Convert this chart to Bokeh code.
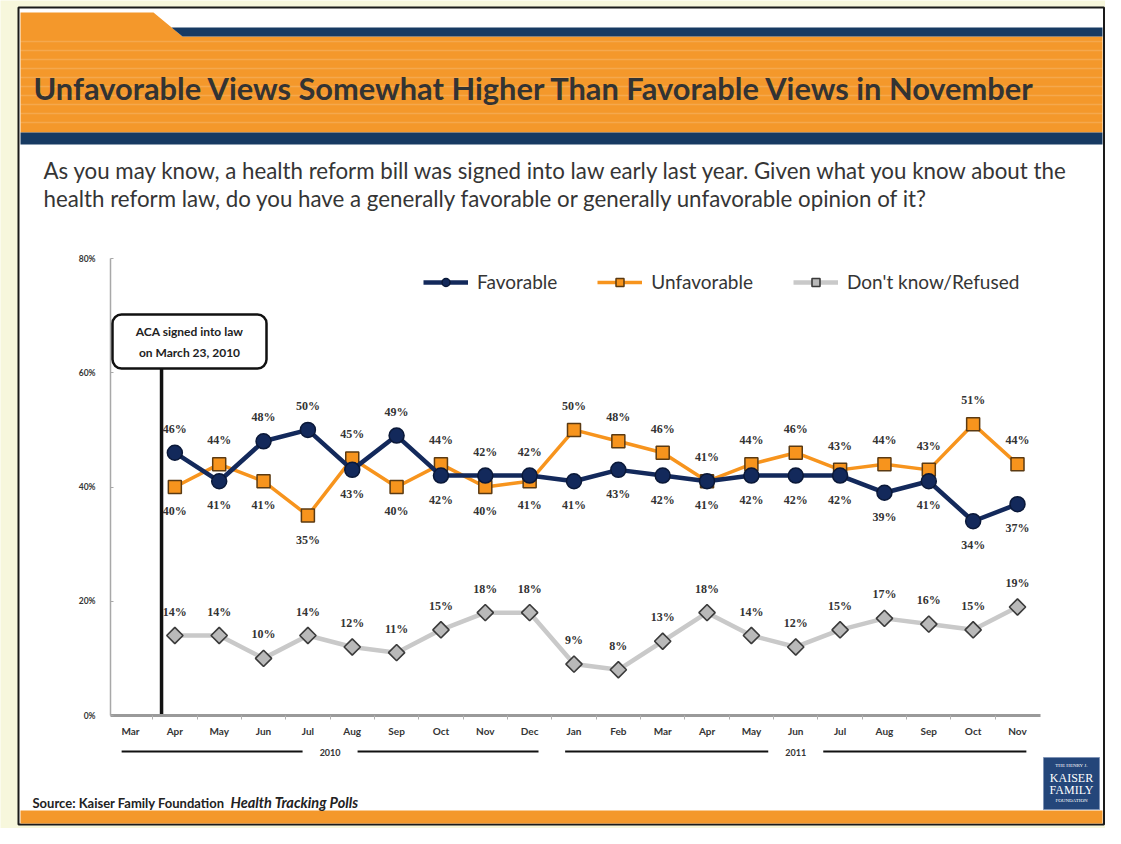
import numpy as np
from bokeh.plotting import figure
from bokeh.models import (Range1d, LinearAxis, FixedTicker, PrintfTickFormatter,
                          Legend, LegendItem, BoxAnnotation, ColumnDataSource)
from bokeh.core.properties import value
from bokeh.embed import file_html
from bokeh.resources import INLINE

# ---------------- data ----------------
months = ["Mar", "Apr", "May", "Jun", "Jul", "Aug", "Sep", "Oct", "Nov", "Dec",
          "Jan", "Feb", "Mar", "Apr", "May", "Jun", "Jul", "Aug", "Sep", "Oct", "Nov"]
years = ["2010", "2011"]
year_first = [0, 10]
year_last = [9, 20]
first_survey = 1  # April 2010
favorable = [46, 41, 48, 50, 43, 49, 42, 42, 42, 41, 43, 42, 41, 42, 42, 42, 39, 41, 34, 37]
unfavorable = [40, 44, 41, 35, 45, 40, 44, 40, 41, 50, 48, 46, 41, 44, 46, 43, 44, 43, 51, 44]
dont_know = [14, 14, 10, 14, 12, 11, 15, 18, 18, 9, 8, 13, 18, 14, 12, 15, 17, 16, 15, 19]
y_ticks = [0, 20, 40, 60, 80]
aca_x = 0.7  # March 23, 2010, between the Mar and Apr slots
aca_text = ["ACA signed into law", "on March 23, 2010"]

title = "Unfavorable Views Somewhat Higher Than Favorable Views in November"
subtitle = ["As you may know, a health reform bill was signed into law early last year. Given what you know about the",
            "health reform law, do you have a generally favorable or generally unfavorable opinion of it?"]
source_a = "Source: Kaiser Family Foundation"
source_b = "Health Tracking Polls"

# ---------------- styles ----------------
ORANGE = "#f4982b"
NAVY = "#173a62"
FAV = "#13295b"
UNF = "#f7941d"
DK_LINE = "#c9c9c9"
DK_FILL = "#b9b9b9"
TXT = "#353535"
BG = "#f7f7dc"
FONT = "Lato"

W, H = 1105, 828
X0, DX = 130.0, 44.35      # x of first slot, slot spacing (pixels)
Y0, DY = 715.0, 5.7125     # y of 0%, pixels per percent

p = figure(width=W, height=H,
           x_range=Range1d(-X0 / DX, (W - X0) / DX),
           y_range=Range1d((Y0 - H) / DY, Y0 / DY),
           x_axis_type=None, y_axis_type=None,
           toolbar_location=None, output_backend="svg", min_border=0,
           background_fill_color=BG, border_fill_color=BG, outline_line_color=None)
p.grid.visible = False
p.extra_x_ranges = {"px": Range1d(0, W)}
p.extra_y_ranges = {"py": Range1d(H, 0)}
PX = dict(x_range_name="px", y_range_name="py")

# ---------------- slide decoration ----------------
p.quad(left=[18], right=[1103.5], top=[7], bottom=[824], fill_color="white",
       line_color="#1a1a1a", line_width=2, **PX)
p.patch(x=[20, 153, 182, 1102, 1102, 20], y=[12, 12, 36, 36, 132, 132],
        fill_color=ORANGE, line_color=None, **PX)
p.patch(x=[171, 1102, 1102, 182], y=[27, 27, 36, 36], fill_color=NAVY, line_color=None, **PX)
stripe_y = list(range(41, 130, 9))
p.segment(x0=[20] * len(stripe_y), x1=[1102] * len(stripe_y), y0=stripe_y, y1=stripe_y,
          line_color="white", line_alpha=0.16, line_width=1.5, **PX)
p.quad(left=[20], right=[1102], top=[132], bottom=[144], fill_color=NAVY, line_color=None, **PX)
p.quad(left=[20], right=[1102], top=[810], bottom=[823], fill_color=ORANGE, line_color=None, **PX)

p.text(x=[33], y=[88], text=[title], text_font=value(FONT), text_font_style="bold",
       text_font_size="30.8px", text_color="#333333", text_baseline="middle", **PX)
p.text(x=[43, 43], y=[170, 198], text=subtitle, text_font=value(FONT),
       text_font_size="22.3px", text_color=TXT, text_baseline="middle", **PX)

# ---------------- axes ----------------
yaxis = LinearAxis(fixed_location=-0.45, ticker=FixedTicker(ticks=y_ticks),
                   formatter=PrintfTickFormatter(format="%d%%"), bounds=(0, 80),
                   axis_line_color="#a8a8a8", axis_line_width=1.5,
                   major_tick_in=3, major_tick_out=0, major_tick_line_color="#a8a8a8",
                   minor_tick_line_color=None, major_label_standoff=15,
                   major_label_text_font=FONT, major_label_text_font_style="bold",
                   major_label_text_font_size="8.5px", major_label_text_color=TXT)
p.add_layout(yaxis, "left")

xaxis = LinearAxis(fixed_location=0, ticker=FixedTicker(ticks=list(range(len(months)))),
                   major_label_overrides={i: m for i, m in enumerate(months)},
                   bounds=(-0.45, len(months) - 0.48),
                   axis_line_color="#9a9a9a", axis_line_width=3,
                   major_tick_line_color=None, minor_tick_line_color=None,
                   major_label_standoff=3, major_label_text_font=FONT,
                   major_label_text_font_style="bold", major_label_text_font_size="10px",
                   major_label_text_color=TXT)
p.add_layout(xaxis, "below")
xticks = LinearAxis(fixed_location=0, ticker=FixedTicker(ticks=[i + 0.5 for i in range(len(months) - 1)]),
                    axis_line_color=None, major_tick_in=0, major_tick_out=4,
                    major_tick_line_color="#b0b0b0", minor_tick_line_color=None,
                    major_label_text_alpha=0, major_label_text_font_size="1px")
p.add_layout(xticks, "below")

# year group labels
for yr, a, b in zip(years, year_first, year_last):
    c = (a + b) / 2
    p.segment(x0=[a - 0.2, c + 0.62], x1=[c - 0.62, b + 0.2], y0=[751, 751], y1=[751, 751],
              y_range_name="py", line_color="#111", line_width=2)
    p.text(x=[c], y=[752], text=[yr], y_range_name="py", text_font=value(FONT),
           text_font_style="bold", text_font_size="9px", text_color=TXT,
           text_align="center", text_baseline="middle")

# ---------------- ACA annotation ----------------
p.segment(x0=[aca_x], x1=[aca_x], y0=[366], y1=[Y0], y_range_name="py",
          line_color="#111", line_width=3.5)
p.add_layout(BoxAnnotation(left=112, right=266, top=314, bottom=368, fill_color="white",
                           fill_alpha=1, line_color="#111", line_alpha=1, line_width=2.5,
                           border_radius=9, **PX))
p.text(x=[189, 189], y=[331, 352], text=aca_text, text_font=value(FONT), text_font_style="bold",
       text_font_size="12px", text_color="#222", text_align="center", text_baseline="middle",
       level="overlay", **PX)

# ---------------- series ----------------
idx = np.arange(first_survey, first_survey + len(favorable))
fav = np.array(favorable)
unf = np.array(unfavorable)
dk = np.array(dont_know)
fav_up = fav > unf

dk_line = p.line(idx, dk, line_color=DK_LINE, line_width=4.5)
dk_pts = p.scatter(idx, dk, marker="square", angle=np.pi / 4, size=11.5, fill_color=DK_FILL,
                   line_color="#3a3a3a", line_width=1.6)
unf_line = p.line(idx, unf, line_color=UNF, line_width=3.5)
unf_pts = p.scatter(idx, unf, marker="square", size=13, fill_color=UNF,
                    line_color="#5b3a12", line_width=1.5)
fav_line = p.line(idx, fav, line_color=FAV, line_width=4.5)
fav_pts = p.scatter(idx, fav, marker="circle", size=15, fill_color=FAV,
                    line_color="#0a1838", line_width=1.5)

OFF = 24
lab_src = ColumnDataSource(dict(
    x=np.concatenate([idx, idx, idx]),
    y=np.concatenate([fav, unf, dk]),
    text=[f"{v}%" for v in np.concatenate([fav, unf, dk])],
    dy=np.concatenate([np.where(fav_up, -OFF, OFF), np.where(fav_up, OFF, -OFF),
                       np.full(len(dk), -OFF)]),
))
p.text(x="x", y="y", text="text", y_offset="dy", source=lab_src,
       text_font=value("Liberation Serif"), text_font_style="bold", text_font_size="12px",
       text_color="#333", text_align="center", text_baseline="middle")

legend = Legend(items=[LegendItem(label="Favorable", renderers=[fav_line, fav_pts]),
                       LegendItem(label="Unfavorable", renderers=[unf_line, unf_pts]),
                       LegendItem(label="Don't know/Refused", renderers=[dk_line, dk_pts])],
                orientation="horizontal", location=(423, H - 293), glyph_width=45, glyph_height=20,
                label_height=20, label_standoff=9, spacing=40, padding=0, margin=0,
                border_line_color=None, background_fill_alpha=0,
                label_text_font=FONT, label_text_font_size="19px", label_text_color=TXT)
p.add_layout(legend)

# ---------------- source & logo ----------------
p.text(x=[32], y=[802], text=[source_a], text_font=value(FONT), text_font_style="bold",
       text_font_size="13px", text_color="#222", text_baseline="middle", **PX)
p.text(x=[230], y=[802], text=[source_b], text_font=value(FONT), text_font_style="bold italic",
       text_font_size="14.5px", text_color="#222", text_baseline="middle", **PX)

p.quad(left=[1043], right=[1099], top=[757], bottom=[809], fill_color="#24467a",
       line_color="#7f93b5", line_width=1, **PX)
p.text(x=[1071, 1071, 1071, 1071], y=[765, 777, 789, 800],
       text=["THE HENRY J.", "KAISER", "FAMILY", "FOUNDATION"],
       text_font=value("Liberation Serif"), text_font_size=["5px", "12px", "12px", "5px"],
       text_color="white", text_align="center", text_baseline="middle", **PX)

open("out.html", "w").write(file_html(p, INLINE))
